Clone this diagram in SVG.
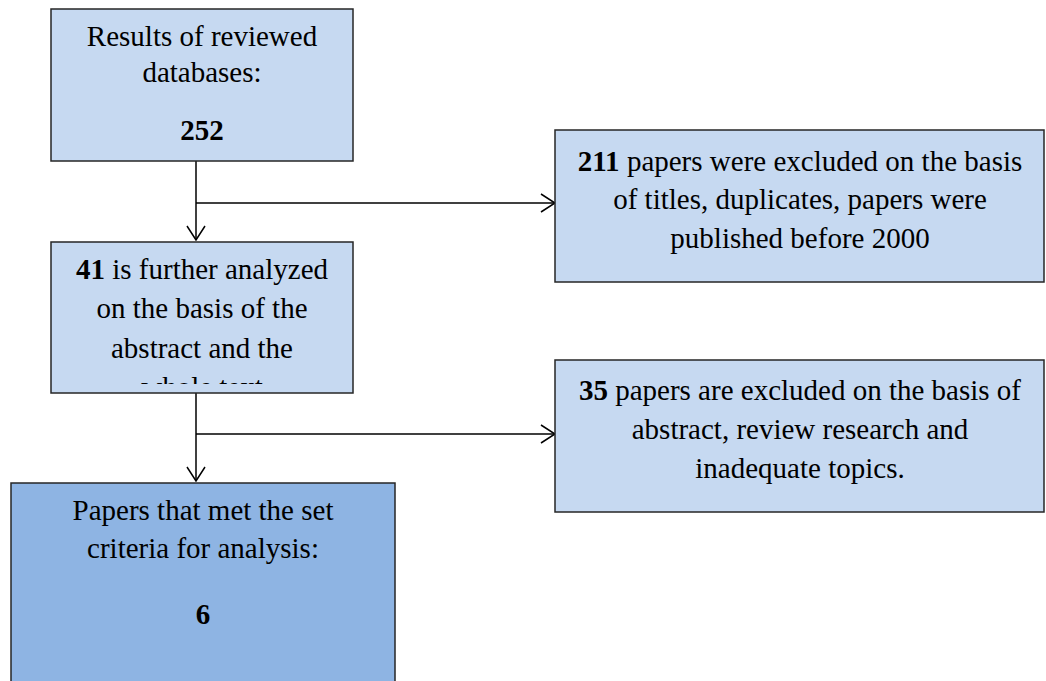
<svg xmlns="http://www.w3.org/2000/svg" width="1046" height="681" viewBox="0 0 1046 681">
<style>
.box{fill:#C6D9F1;stroke:#262626;stroke-width:1.5}
.dark{fill:#8EB4E3}
.t{font-family:"Liberation Serif","Times New Roman",serif;font-size:29px;fill:#000;text-anchor:middle}
.b{font-weight:bold}
.c{fill:none;stroke:#000;stroke-width:1.5}
</style>
<defs>
<marker id="arr" viewBox="0 0 16 20" refX="15" refY="10" markerWidth="16" markerHeight="20" markerUnits="userSpaceOnUse" orient="auto">
<path d="M1,1 L15,10 L1,19" fill="none" stroke="#000" stroke-width="1.5"/>
</marker>
<clipPath id="clip2"><rect x="51" y="242" width="302" height="142"/></clipPath>
</defs>
<rect width="1046" height="681" fill="#fff"/>
<g id="connectors">
<line class="c" x1="196" y1="161" x2="196" y2="240" marker-end="url(#arr)"/>
<line class="c" x1="196" y1="203" x2="555" y2="203" marker-end="url(#arr)"/>
<line class="c" x1="196" y1="393" x2="196" y2="481" marker-end="url(#arr)"/>
<line class="c" x1="196" y1="434" x2="555" y2="434" marker-end="url(#arr)"/>
</g>
<g id="n1">
<rect class="box" x="51" y="9" width="302" height="152"/>
<text class="t" x="202" y="46">Results of reviewed</text>
<text class="t" x="202" y="82">databases:</text>
<text class="t b" x="202" y="140">252</text>
</g>
<g id="n2">
<rect class="box" x="51" y="242" width="302" height="151"/>
<g clip-path="url(#clip2)">
<text class="t" x="202" y="279"><tspan class="b">41</tspan> is further analyzed</text>
<text class="t" x="202" y="318">on the basis of the</text>
<text class="t" x="202" y="358">abstract and the</text>
<text class="t" x="202" y="397">whole text</text>
</g>
</g>
<g id="n3">
<rect class="box" x="555" y="130" width="489" height="152"/>
<text class="t" x="800" y="171"><tspan class="b">211</tspan> papers were excluded on the basis</text>
<text class="t" x="800" y="209">of titles, duplicates, papers were</text>
<text class="t" x="800" y="248">published before 2000</text>
</g>
<g id="n4">
<rect class="box" x="555" y="360" width="489" height="152"/>
<text class="t" x="800" y="400"><tspan class="b">35</tspan> papers are excluded on the basis of</text>
<text class="t" x="800" y="439">abstract, review research and</text>
<text class="t" x="800" y="478">inadequate topics.</text>
</g>
<g id="n5">
<rect class="box dark" x="11" y="483" width="384" height="210"/>
<text class="t" x="203" y="520">Papers that met the set</text>
<text class="t" x="203" y="558">criteria for analysis:</text>
<text class="t b" x="203" y="624">6</text>
</g>
</svg>
